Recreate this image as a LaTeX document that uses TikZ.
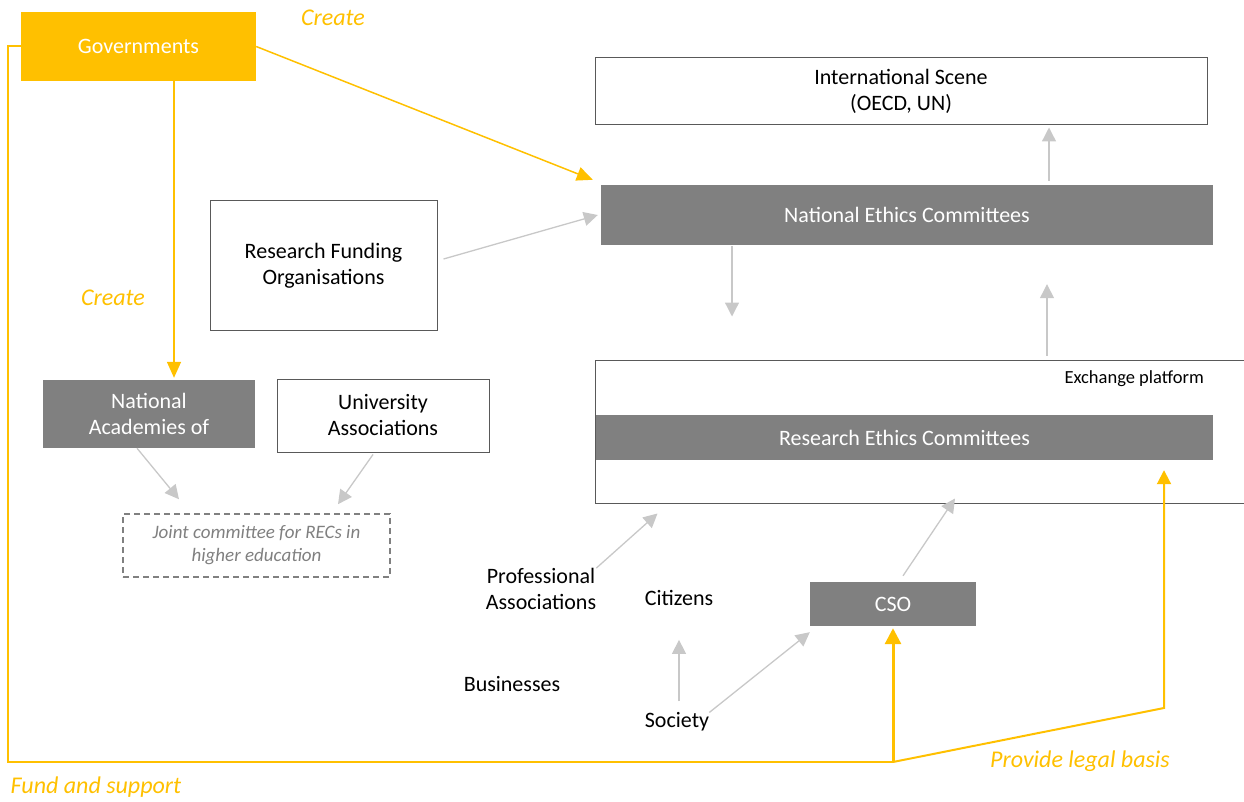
\documentclass[tikz,border=0pt]{standalone}
\usepackage{fontspec}
\setmainfont{Carlito}
\usetikzlibrary{arrows.meta}

\definecolor{govyellow}{HTML}{FFC000}
\definecolor{boxgrey}{HTML}{808080}
\definecolor{arrowgrey}{HTML}{C8C8C8}
\definecolor{edgegrey}{HTML}{595959}

\tikzset{
  boxtext/.style={font=\fontsize{22}{26}\selectfont, align=center, inner sep=0pt},
  yellowbox/.style={boxtext, fill=govyellow, text=white},
  greybox/.style={boxtext, fill=boxgrey, text=white},
  whitebox/.style={boxtext, draw=edgegrey, line width=1pt, fill=white, text=black},
  jointbox/.style={draw=boxgrey, dashed, dash pattern=on 6pt off 4pt, line width=1.5pt,
    font=\fontsize{19}{23}\selectfont\itshape, text=boxgrey, align=center, inner sep=0pt},
  plaintext/.style={boxtext, text=black},
  yellowlabel/.style={font=\fontsize{24}{28}\selectfont\itshape, text=govyellow, inner sep=0pt},
  greyarrow/.style={draw=arrowgrey, line width=1.3pt, -{Triangle[length=14pt,width=14pt]}},
  yarrow/.style={draw=govyellow, line width=1.5pt, -{Triangle[length=16pt,width=14pt]}},
  yline/.style={draw=govyellow, line width=2pt}
}

\begin{document}
\begin{tikzpicture}[x=1pt, y=-1pt]

\useasboundingbox (0,0) rectangle (1244,802);

\node[yellowbox, minimum width=235pt, minimum height=69pt] (gov) at (138.5,46.5) {Governments};
\node[whitebox, minimum width=612pt, minimum height=67pt] (intl) at (901,91.5) {International Scene\\(OECD, UN)};
\node[greybox, minimum width=612pt, minimum height=60pt] (nec) at (907,215) {National Ethics Committees};
\node[whitebox, minimum width=227pt, minimum height=129pt] (rfo) at (323.5,265.5) {Research Funding\\Organisations};
\node[greybox, minimum width=212pt, minimum height=68pt] (nat) at (149,414) {National\\Academies of};
\node[whitebox, minimum width=212pt, minimum height=73pt] (univ) at (383,415.5) {University\\Associations};
\node[jointbox, minimum width=267pt, minimum height=63pt] (joint) at (256.5,545.5) {Joint committee for RECs in\\higher education};
\node[whitebox, minimum width=665pt, minimum height=143pt] (exch) at (927.5,431.5) {};
\node[plaintext, font=\fontsize{18.5}{20}\selectfont, anchor=east] (exchname) at (1204,379) {Exchange platform};
\node[greybox, minimum width=617pt, minimum height=45pt] (rec) at (904.5,437.5) {Research Ethics Committees};
\node[greybox, minimum width=166pt, minimum height=44pt] (cso) at (893,604) {CSO};

\node[plaintext] (prof) at (541,589) {Professional\\Associations};
\node[plaintext] (cit) at (679,598) {Citizens};
\node[plaintext] (bus) at (512,684) {Businesses};
\node[plaintext] (soc) at (677,722) {Society};

\node[yellowlabel] (create1) at (333,18) {Create};
\node[yellowlabel] (create2) at (113,298) {Create};
\node[yellowlabel] (legal) at (1080,761) {Provide legal basis};
\node[yellowlabel] (fund) at (96,787) {Fund and support};

\coordinate (colA) at (732,0);
\coordinate (colB) at (1047,0);
\coordinate (colC) at (1049,0);
\coordinate (base) at (893,762);
\coordinate (corner) at (1164,708);

\draw[greyarrow] ([xshift=6pt,yshift=6.5pt]rfo.east) -- ([xshift=-3pt]nec.west);
\draw[greyarrow, shorten <=1pt, shorten >=43pt] (colA |- nec.south) -- (colA |- exch.north);
\draw[greyarrow, shorten <=4pt, shorten >=39pt] (colB |- exch.north) -- (colB |- nec.south);
\draw[greyarrow, shorten <=4pt, shorten >=2pt] (colC |- nec.north) -- (colC |- intl.south);
\draw[greyarrow] ([xshift=-12pt]nat.south) -- ([xshift=-77.5pt,yshift=14pt]joint.north);
\draw[greyarrow] ([xshift=-10pt,yshift=-2pt]univ.south) -- ([xshift=81.5pt,yshift=9pt]joint.north);
\draw[greyarrow] (prof.north east) -- ([xshift=63pt,yshift=-10pt]exch.south west);
\draw[greyarrow] ([xshift=10pt,yshift=6pt]cso.north) -- ([xshift=27.5pt,yshift=5pt]exch.south);
\draw[greyarrow, shorten <=11pt, shorten >=34pt] (soc.north -| cit.south) -- (cit.south);
\draw[greyarrow] (soc.north east) -- ([yshift=-6pt]cso.south west);

\draw[yarrow] (gov.east) -- ([xshift=-8pt,yshift=5pt]nec.north west);
\draw[yarrow, shorten >=2pt] ([xshift=35.5pt]gov.south) -- ([xshift=25pt]nat.north);
\draw[yline] (gov.west) -- ++(-13,0) |- (base);
\draw[yline, line width=3pt, -{Triangle[length=16pt,width=16pt]}, shorten >=2pt] (base) -- (cso.south);
\draw[yline, -{Triangle[length=14pt,width=14pt]}, shorten >=10pt] (base) -- (corner) -- (corner |- rec.south);

\end{tikzpicture}
\end{document}
